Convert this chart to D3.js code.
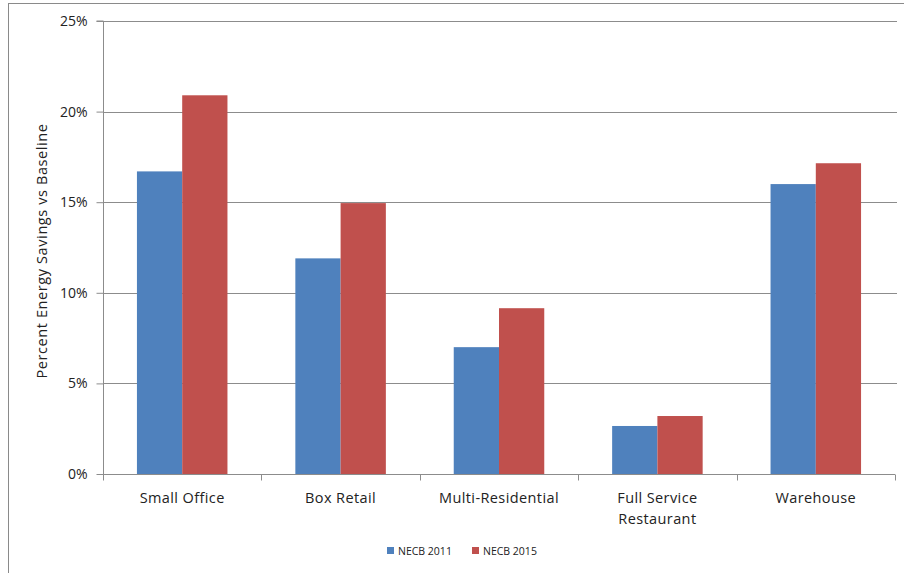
<!DOCTYPE html>
<html><head><meta charset="utf-8">
<script src="https://cdn.jsdelivr.net/npm/d3@7"></script>
<style>html,body{margin:0;padding:0;background:#fff;}svg{display:block;}</style>
</head><body>
<svg id="chart" width="904" height="573"></svg>
<script>
const categories = [["Small Office"], ["Box Retail"], ["Multi-Residential"], ["Full Service", "Restaurant"], ["Warehouse"]];
const seriesNames = ["NECB 2011", "NECB 2015"];
const necb2011 = [16.7, 11.9, 7.0, 2.65, 16.0];
const necb2015 = [20.9, 14.95, 9.15, 3.2, 17.15];
const yTicks = [0, 5, 10, 15, 20, 25];
const colors = ["#4F81BD", "#C0504D"];
const yTitle = "Percent Energy Savings vs Baseline";

(function () {
const svg = d3.select("#chart");
const font = "'Open Sans', Lato, sans-serif";
const pLeft = 103, pRight = 895, pTop = 21, pBottom = 474;

// outer frame
svg.append("line").attr("x1", 8.5).attr("x2", 8.5).attr("y1", 3).attr("y2", 573).attr("stroke", "#8a8a8a");
svg.append("line").attr("x1", 8).attr("x2", 904).attr("y1", 3.5).attr("y2", 3.5).attr("stroke", "#8a8a8a");

const x0 = d3.scaleBand().domain(d3.range(categories.length)).range([pLeft, pRight]).paddingInner(0).paddingOuter(0);
const gapFrac = 1.5 / 3.5;
const x1 = d3.scaleBand().domain([0, 1]).range([x0.bandwidth() * gapFrac / 2, x0.bandwidth() * (1 - gapFrac / 2)]);
const y = d3.scaleLinear().domain([0, 25]).range([pBottom, pTop]);

// gridlines
svg.append("g").selectAll("line").data(yTicks.filter(d => d > 0)).join("line")
  .attr("x1", pLeft).attr("x2", 897)
  .attr("y1", d => Math.round(y(d)) + 0.5).attr("y2", d => Math.round(y(d)) + 0.5)
  .attr("stroke", "#8c8c8c").attr("stroke-width", 1);

// bars
const data = categories.map((c, i) => [necb2011[i], necb2015[i]]);
const g = svg.append("g");
data.forEach((vals, i) => {
  vals.forEach((v, s) => {
    g.append("rect")
      .attr("x", x0(i) + x1(s))
      .attr("y", y(v))
      .attr("width", x1.bandwidth())
      .attr("height", y(0) - y(v))
      .attr("fill", colors[s]);
  });
});

// y axis
const yAxis = d3.axisLeft(y).tickValues(yTicks).tickFormat(d => d + "%").tickSize(7).tickPadding(9);
const ya = svg.append("g").attr("transform", `translate(${pLeft + 0.5},0)`).call(yAxis);
ya.select(".domain").attr("stroke", "#8c8c8c").attr("d", `M-7,${y(25)}H0V${y(0)}`);
ya.selectAll(".tick line").attr("stroke", "#8c8c8c");
ya.selectAll(".tick text").attr("font-family", font).attr("font-size", 14).attr("fill", "#222");

// x axis
const xa = svg.append("g").attr("transform", `translate(0,${Math.round(y(0)) + 0.5})`);
xa.append("line").attr("x1", pLeft).attr("x2", pRight).attr("stroke", "#8c8c8c");
d3.range(categories.length + 1).forEach(i => {
  const xx = Math.round(i < categories.length ? x0(i) : pRight) + 0.5;
  xa.append("line").attr("x1", xx).attr("x2", xx).attr("y1", 0).attr("y2", 6).attr("stroke", "#8c8c8c");
});
categories.forEach((lines, i) => {
  const t = xa.append("text").attr("text-anchor", "middle").attr("font-family", font).attr("font-size", 14.5)
    .attr("letter-spacing", "0.4px").attr("fill", "#222");
  lines.forEach((ln, k) => {
    t.append("tspan").attr("x", x0(i) + x0.bandwidth() / 2).attr("y", 28 + k * 21).text(ln);
  });
});

// y title
svg.append("text").attr("transform", "translate(47,251) rotate(-90)")
  .attr("text-anchor", "middle").attr("font-family", font).attr("font-size", 14.5)
  .attr("letter-spacing", "0.6px").attr("fill", "#222")
  .text(yTitle);

// legend
const lg = svg.append("g");
const legendX = [387, 472];
seriesNames.forEach((n, i) => {
  lg.append("rect").attr("x", legendX[i]).attr("y", 547).attr("width", 7).attr("height", 7).attr("fill", colors[i]);
  lg.append("text").attr("x", legendX[i] + 11).attr("y", 555).attr("font-family", font).attr("font-size", 10.5).attr("fill", "#222").text(n);
});
})();
</script>
</body></html>
